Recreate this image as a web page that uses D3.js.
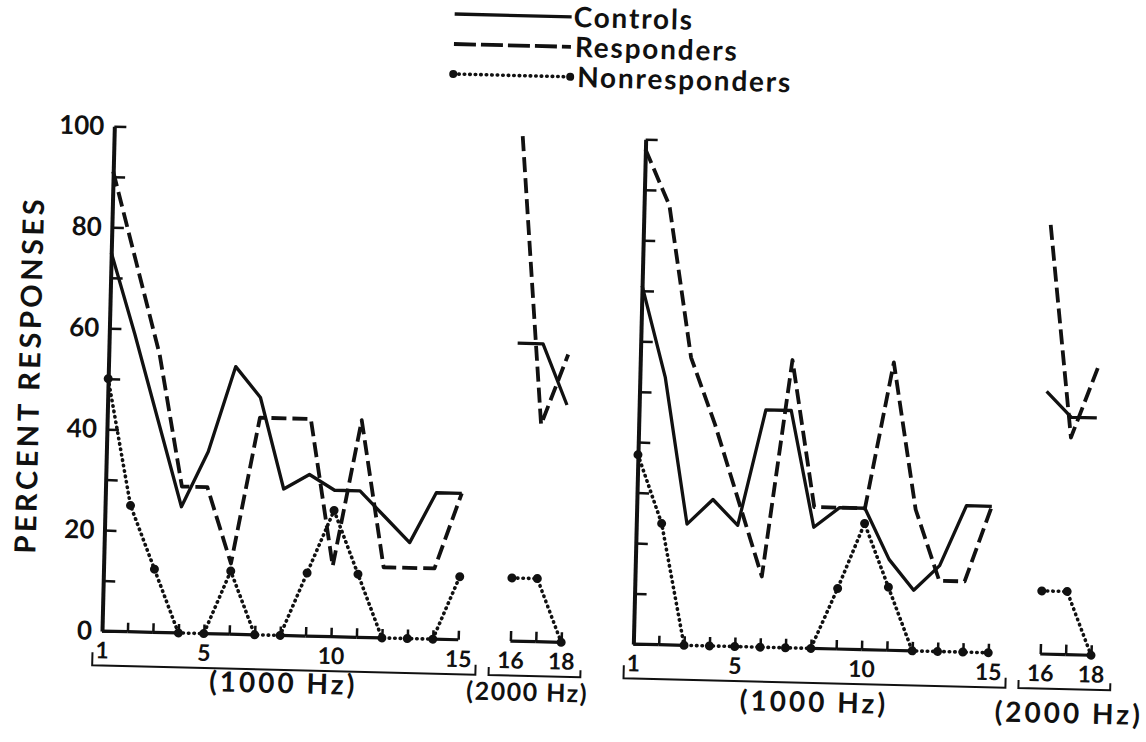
<!DOCTYPE html>
<html>
<head>
<meta charset="utf-8">
<script src="https://cdn.jsdelivr.net/npm/d3@7"></script>
<style>
body { margin: 0; background: #fff; }
text { font-family: Lato, "Noto Sans", sans-serif; font-weight: 700; fill: #111; }
</style>
</head>
<body>
<div id="chart"></div>
<script>
// stimulus number: 1-15 at 1000 Hz, 16-18 at 2000 Hz
var freq = d3.range(1, 19);

// percent responses
var leftControls  = [75, 59, 42, 25, 36, 53, 47, 29, 32, 29, 29, 24, 19, 29, 29,   59, 59, 47];
var leftResp      = [91, 73, 55, 29, 29, 14, 43, 43, 43, 14, 43, 14, 14, 14, 29,   100, 43, 57];
var leftNon       = [50, 25, 12.5, 0, 0, 12.5, 0, 0, 12.5, 25, 12.5, 0, 0, 0, 12.5,   12.5, 12.5, 0];
var rightControls = [71, 53, 24, 29, 24, 47, 47, 24, 28, 28, 18, 12, 17, 29, 29,   52, 47, 47];
var rightResp     = [98, 87, 57, 44, 29, 14, 57, 28, 28, 28, 57, 28, 14, 14, 29,   85, 43, 57];
var rightNon      = [37.5, 24, 0, 0, 0, 0, 0, 0, 12, 25, 12.5, 0, 0, 0, 0,   12.5, 12.5, 0];

var yTicks = d3.range(0, 101, 10);
var yLabels = [0, 20, 40, 60, 80, 100];
var xLabels = [1, 5, 10, 15];
var xLabelsB = [16, 18];
var legendNames = ["Controls", "Responders", "Nonresponders"];
var groupNames = ["(1000 Hz)", "(2000 Hz)"];

var width = 1146, height = 742;
var ink = "#111";

var svg = d3.select("#chart").append("svg")
  .attr("width", width)
  .attr("height", height);
svg.append("rect").attr("width", width).attr("height", height).attr("fill", "#fff");

// the scanned figure sits slightly tilted
var g = svg.append("g").attr("transform", "rotate(1.4,573,371)");

var y = d3.scaleLinear().domain([0, 100]).range([642.5, 137.5]);

// hz labels: [x, y, font size, letter spacing]
var panels = [
  {xA: [108.5, 464.8], xB: [517, 567.8], controls: leftControls, resp: leftResp, non: leftNon,
   labels: true, hzA: [291, 700, 28, 3], hzB: [535, 702, 25, 1.5]},
  {xA: [640, 995], xB: [1047, 1097.8], controls: rightControls, resp: rightResp, non: rightNon,
   labels: false, hzA: [822, 706, 28, 3], hzB: [1077, 711, 28, 3]}
];

var styles = {
  controls: {w: 3.3, dash: null},
  resp: {w: 3.8, dash: "15 6"},
  non: {w: 3.6, dash: "0.5 5"}
};

function styleAxis(ax, size) {
  ax.attr("font-size", size);
  ax.selectAll(".tick line").attr("stroke", ink).attr("stroke-width", 2.5);
  ax.selectAll(".tick text").attr("fill", ink);
}

function drawPanel(p) {
  var xA = d3.scaleLinear().domain([1, 15]).range(p.xA);
  var xB = d3.scaleLinear().domain([16, 18]).range(p.xB);
  var xOf = function(f) { return f <= 15 ? xA(f) : xB(f); };
  var groups = [freq.filter(function(f) { return f <= 15; }),
                freq.filter(function(f) { return f > 15; })];

  // y axis
  var ay = g.append("g")
    .attr("transform", "translate(" + xA(1) + ",0)")
    .call(d3.axisLeft(y).tickValues(yTicks).tickSizeInner(-12).tickSizeOuter(0).tickPadding(10)
      .tickFormat(function(d) { return p.labels && yLabels.indexOf(d) >= 0 ? d : ""; }));
  ay.select(".domain").attr("stroke", ink).attr("stroke-width", 4);
  styleAxis(ay, 26);

  // x axes (ticks point up)
  var ax = g.append("g")
    .attr("transform", "translate(0," + y(0) + ")")
    .call(d3.axisBottom(xA).tickValues(groups[0]).tickSizeInner(-9).tickSizeOuter(0).tickPadding(11)
      .tickFormat(function(d) { return xLabels.indexOf(d) >= 0 ? d : ""; }));
  ax.select(".domain").remove();
  styleAxis(ax, 23);

  var axB = g.append("g")
    .attr("transform", "translate(0," + y(0) + ")")
    .call(d3.axisBottom(xB).tickValues(groups[1]).tickSizeInner(-10).tickSizeOuter(0).tickPadding(11)
      .tickFormat(function(d) { return xLabelsB.indexOf(d) >= 0 ? d : ""; }));
  axB.select(".domain").remove();
  styleAxis(axB, 23);

  // baseline, left out where the nonresponders' dotted line runs along zero
  groups.forEach(function(fs) {
    for (var k = 0; k < fs.length - 1; k++) {
      var a = fs[k], b = fs[k + 1];
      if (p.non[a - 1] === 0 && p.non[b - 1] === 0) continue;
      g.append("line")
        .attr("x1", xOf(a)).attr("x2", xOf(b))
        .attr("y1", y(0)).attr("y2", y(0))
        .attr("stroke", ink).attr("stroke-width", 3.2);
    }
  });

  // brackets under the stimulus numbers
  var bracket = d3.line();
  g.append("path")
    .attr("d", bracket([[xA(1) - 9, 664], [xA(1) - 9, 677], [xA(15) + 18, 677], [xA(15) + 18, 667]]))
    .attr("fill", "none").attr("stroke", ink).attr("stroke-width", 2);
  g.append("path")
    .attr("d", bracket([[xB(16) - 21, 669], [xB(16) - 21, 677], [xB(18) + 20, 677], [xB(18) + 20, 670]]))
    .attr("fill", "none").attr("stroke", ink).attr("stroke-width", 2);

  [p.hzA, p.hzB].forEach(function(h, i) {
    g.append("text").attr("x", h[0]).attr("y", h[1])
      .attr("text-anchor", "middle").attr("font-size", h[2]).attr("letter-spacing", h[3])
      .text(groupNames[i]);
  });

  // series
  var line = d3.line()
    .x(function(d) { return xOf(d.f); })
    .y(function(d) { return y(d.v); });

  ["controls", "resp", "non"].forEach(function(key) {
    var vals = p[key];
    groups.forEach(function(fs) {
      g.append("path")
        .datum(fs.map(function(f) { return {f: f, v: vals[f - 1]}; }))
        .attr("d", line)
        .attr("fill", "none")
        .attr("stroke", ink)
        .attr("stroke-width", styles[key].w)
        .attr("stroke-linecap", key === "non" ? "round" : "butt")
        .attr("stroke-linejoin", "round")
        .attr("stroke-dasharray", styles[key].dash);
    });
  });

  g.selectAll(null)
    .data(freq.map(function(f) { return {f: f, v: p.non[f - 1]}; }))
    .enter().append("circle")
    .attr("cx", function(d) { return xOf(d.f); })
    .attr("cy", function(d) { return y(d.v); })
    .attr("r", 4.5)
    .attr("fill", ink);
}

panels.forEach(drawPanel);

// y title
g.append("text")
  .attr("transform", "translate(40,388) rotate(-90)")
  .attr("text-anchor", "middle")
  .attr("font-size", 29)
  .attr("letter-spacing", 3.5)
  .text("PERCENT RESPONSES");

// legend
var legendRows = [
  {key: "controls", y: 17, tx: 565, ty: 27},
  {key: "resp", y: 47, tx: 567, ty: 57},
  {key: "non", y: 77, tx: 570, ty: 87}
];
legendRows.forEach(function(r, i) {
  g.append("line")
    .attr("x1", 446).attr("x2", 563)
    .attr("y1", r.y).attr("y2", r.y)
    .attr("stroke", ink)
    .attr("stroke-width", styles[r.key].w)
    .attr("stroke-linecap", r.key === "non" ? "round" : "butt")
    .attr("stroke-dasharray", r.key === "resp" ? "22 5" : styles[r.key].dash);
  if (r.key === "non") {
    [446, 563].forEach(function(cx) {
      g.append("circle").attr("cx", cx).attr("cy", r.y).attr("r", 4).attr("fill", ink);
    });
  }
  g.append("text")
    .attr("x", r.tx).attr("y", r.ty)
    .attr("font-size", 28)
    .attr("letter-spacing", 1.8)
    .text(legendNames[i]);
});
</script>
</body>
</html>
